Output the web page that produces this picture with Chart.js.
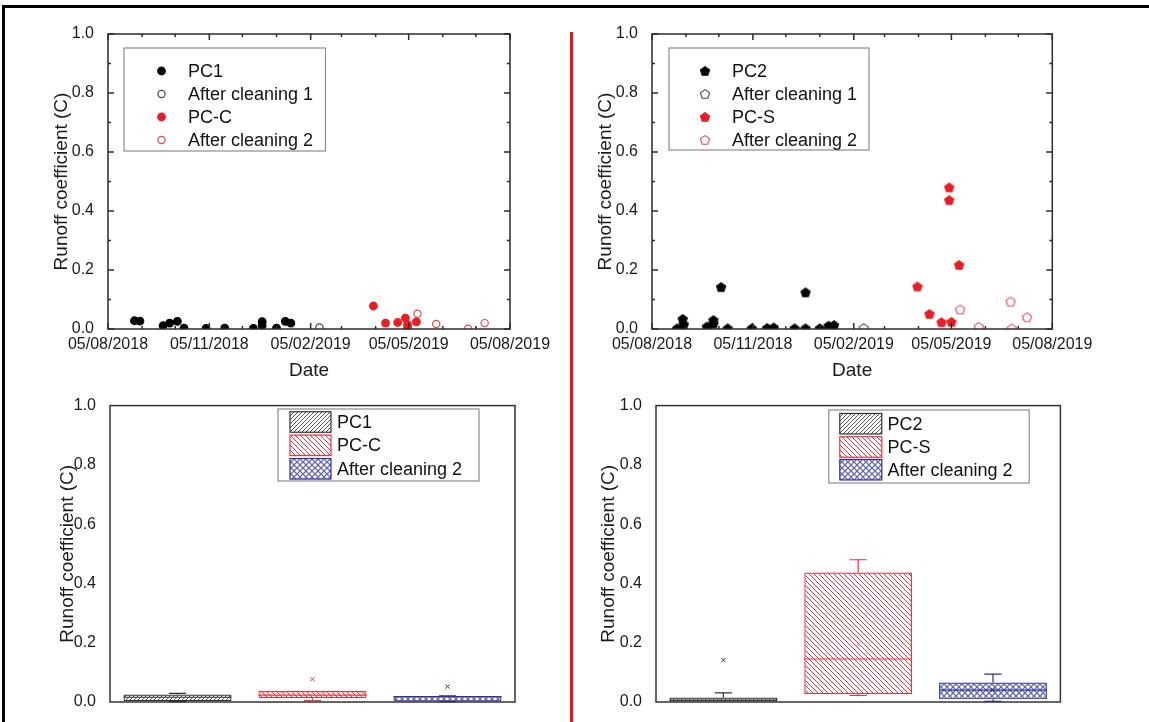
<!DOCTYPE html>
<html>
<head>
<meta charset="utf-8">
<title>Runoff coefficient</title>
<script src="https://cdn.jsdelivr.net/npm/chart.js@4.4.1/dist/chart.umd.min.js"></script>
<style>
  html, body { margin: 0; padding: 0; background: #fff; }
  body { width: 1149px; height: 722px; position: relative; overflow: hidden; }
  canvas, .rule { position: absolute; }
</style>
</head>
<body>
<div class="rule" style="left:2px;top:5px;width:1147px;height:3px;background:#000"></div>
<div class="rule" style="left:2px;top:5px;width:3px;height:717px;background:#000"></div>
<div class="rule" style="left:570px;top:32px;width:3px;height:690px;background:#e8141c"></div>
<canvas id="scatterA" style="left:0;top:0" width="575" height="390"></canvas>
<canvas id="scatterB" style="left:575px;top:0" width="574" height="390"></canvas>
<canvas id="boxA" style="left:0;top:390px" width="575" height="332"></canvas>
<canvas id="boxB" style="left:575px;top:390px" width="574" height="332"></canvas>
<script>
// ---- axis ticks ----
const xRange = ['2018-08-05', '2019-08-05'];
const xTickDates = ['2018-08-05', '2018-11-05', '2019-02-05', '2019-05-05', '2019-08-05'];
const xMinorDates = ['2018-09-05', '2018-10-05', '2018-12-05', '2019-01-05',
                     '2019-03-05', '2019-04-05', '2019-06-05', '2019-07-05'];
const yTicks = [0, 0.2, 0.4, 0.6, 0.8, 1.0];
const yMinor = [0.1, 0.3, 0.5, 0.7, 0.9];

// ---- top left: PC1 / PC-C ----
const pc1Dates = ['2018-08-29', '2018-09-03', '2018-09-24', '2018-09-30', '2018-10-07', '2018-10-13', '2018-11-02',
                  '2018-11-19', '2018-12-15', '2018-12-23', '2018-12-23', '2019-01-05', '2019-01-13', '2019-01-18'];
const pc1Values = [0.028, 0.027, 0.011, 0.020, 0.026, 0.003, 0.002, 0.003, 0.002, 0.025, 0.012, 0.003, 0.026, 0.020];
const clean1ADates = ['2019-02-13'];
const clean1AValues = [0.005];
const pccDates = ['2019-04-03', '2019-04-14', '2019-04-25', '2019-05-02', '2019-05-04', '2019-05-04', '2019-05-12'];
const pccValues = [0.078, 0.020, 0.022, 0.037, 0.015, 0.005, 0.024];
const clean2ADates = ['2019-05-13', '2019-05-30', '2019-06-28', '2019-07-13'];
const clean2AValues = [0.052, 0.017, 0.001, 0.020];

// ---- top right: PC2 / PC-S ----
const pc2Dates = ['2018-08-28', '2018-09-02', '2018-09-03', '2018-09-24', '2018-09-30', '2018-09-30', '2018-10-07',
                  '2018-10-13', '2018-11-04', '2018-11-18', '2018-11-24', '2018-12-13', '2018-12-23', '2018-12-23',
                  '2019-01-05', '2019-01-13', '2019-01-18'];
const pc2Values = [0.002, 0.034, 0.015, 0.008, 0.030, 0.018, 0.142, 0.002, 0.002, 0.003, 0.005, 0.002, 0.124, 0.002,
                   0.002, 0.011, 0.013];
const clean1BDates = ['2019-02-14'];
const clean1BValues = [0.003];
const pcsDates = ['2019-04-04', '2019-04-15', '2019-04-26', '2019-05-03', '2019-05-03', '2019-05-05', '2019-05-12'];
const pcsValues = [0.144, 0.051, 0.023, 0.480, 0.437, 0.024, 0.217];
const clean2BDates = ['2019-05-13', '2019-05-30', '2019-06-28', '2019-06-29', '2019-07-13'];
const clean2BValues = [0.066, 0.007, 0.093, 0.002, 0.040];

// ---- bottom left box plot ----
const boxALabels = ['PC1', 'PC-C', 'After cleaning 2'];
const boxAQ1 = [0.003, 0.013, 0.002];
const boxAQ3 = [0.025, 0.037, 0.020];
const boxAMedian = [0.016, 0.023, 0.018];
const boxALow = [0.001, 0.005, 0.001];
const boxAHigh = [0.029, 0.037, 0.021];
const boxAMarks = [null, 0.077, 0.052];

// ---- bottom right box plot ----
const boxBLabels = ['PC2', 'PC-S', 'After cleaning 2'];
const boxBQ1 = [0.002, 0.026, 0.009];
const boxBQ3 = [0.015, 0.437, 0.066];
const boxBMedian = [0.006, 0.145, 0.040];
const boxBLow = [0.002, 0.022, 0.002];
const boxBHigh = [0.031, 0.480, 0.094];
const boxBMarks = [0.141, 0.197, 0.041];

const FONT = '"Liberation Sans", Arial, Helvetica, sans-serif';
Chart.defaults.font.family = FONT;
Chart.defaults.color = '#1a1a1a';
Chart.defaults.animation = false;

const RED = '#ec1c24';
const RED_OPEN = '#e5464f';
const BLUE = '#2e3192';
const TITLE_SIZE = 19;

const toTime = d => Date.parse(d);
const pad2 = n => String(n).padStart(2, '0');
const fmtDate = v => {
    const d = new Date(v);
    return pad2(d.getUTCDate()) + '/' + pad2(d.getUTCMonth() + 1) + '/' + d.getUTCFullYear();
};
const pts = (dates, vals) => dates.map((d, i) => ({x: toTime(d), y: vals[i]}));

// pentagon marker drawn on a small canvas, used as pointStyle
function pentagon(fill, stroke) {
    const c = document.createElement('canvas');
    c.width = c.height = 12;
    const g = c.getContext('2d');
    g.beginPath();
    for (let k = 0; k < 5; k++) {
        const a = -Math.PI / 2 + k * 2 * Math.PI / 5;
        const px = 6 + 4.8 * Math.cos(a), py = 6.4 + 4.8 * Math.sin(a);
        k ? g.lineTo(px, py) : g.moveTo(px, py);
    }
    g.closePath();
    if (fill) { g.fillStyle = fill; g.fill(); }
    g.strokeStyle = stroke;
    g.lineWidth = 1.1;
    g.stroke();
    return c;
}

function hatch(color, size, dir) {
    const c = document.createElement('canvas');
    c.width = c.height = size;
    const g = c.getContext('2d');
    g.strokeStyle = color;
    g.lineWidth = 1;
    g.beginPath();
    if (dir === '/') {
        g.moveTo(0, size); g.lineTo(size, 0);
        g.moveTo(-1, 1); g.lineTo(1, -1);
        g.moveTo(size - 1, size + 1); g.lineTo(size + 1, size - 1);
    } else {
        g.moveTo(0, 0); g.lineTo(size, size);
        g.moveTo(-1, size - 1); g.lineTo(1, size + 1);
        g.moveTo(size - 1, -1); g.lineTo(size + 1, 1);
    }
    g.stroke();
    return g.createPattern(c, 'repeat');
}

function rings(color, size) {
    const c = document.createElement('canvas');
    c.width = c.height = size;
    const g = c.getContext('2d');
    g.strokeStyle = color;
    g.lineWidth = 1;
    g.beginPath();
    g.arc(size / 2, size / 2, size / 2 - 0.6, 0, Math.PI * 2);
    g.stroke();
    return g.createPattern(c, 'repeat');
}

// frame around the plot area plus inward ticks on all four sides
const axisFrame = {
    id: 'axisFrame',
    afterDatasetsDraw(chart, args, o) {
        const {ctx, chartArea: a} = chart;
        const xs = chart.scales.x, ys = chart.scales.y;
        ctx.save();
        ctx.strokeStyle = o.color;
        ctx.lineWidth = o.width;
        const tick = (vals, len, horiz) => vals.forEach(v => {
            ctx.beginPath();
            if (horiz) {
                const px = xs.getPixelForValue(v);
                ctx.moveTo(px, a.bottom); ctx.lineTo(px, a.bottom - len);
                ctx.moveTo(px, a.top); ctx.lineTo(px, a.top + len);
            } else {
                const py = ys.getPixelForValue(v);
                ctx.moveTo(a.left, py); ctx.lineTo(a.left + len, py);
                ctx.moveTo(a.right, py); ctx.lineTo(a.right - len, py);
            }
            ctx.stroke();
        });
        if (o.ticks) {
            tick(xTickDates.map(toTime), 6, true);
            tick(xMinorDates.map(toTime), 3, true);
            tick(yTicks, 6, false);
            tick(yMinor, 3, false);
        }
        ctx.strokeRect(a.left, a.top, a.right - a.left, a.bottom - a.top);
        ctx.restore();
    }
};

// boxed legend inside the plot area
const insideLegend = {
    id: 'insideLegend',
    afterDraw(chart, args, o) {
        const ctx = chart.ctx;
        const [bx, by, bw, bh] = o.box;
        ctx.save();
        ctx.fillStyle = '#fff';
        ctx.fillRect(bx, by, bw, bh);
        ctx.strokeStyle = '#8c8c8c';
        ctx.lineWidth = 1.2;
        ctx.strokeRect(bx, by, bw, bh);
        ctx.font = '18px ' + FONT;
        ctx.textBaseline = 'middle';
        if (o.kind === 'point') {
            chart.data.datasets.forEach((ds, i) => {
                const y = o.rows[i];
                ctx.fillStyle = ds.pointBackgroundColor;
                ctx.strokeStyle = ds.pointBorderColor;
                ctx.lineWidth = ds.pointBorderWidth;
                Chart.helpers.drawPoint(ctx, {pointStyle: ds.pointStyle, radius: ds.pointRadius,
                    borderWidth: ds.pointBorderWidth, rotation: 0}, o.markerX, y);
                ctx.fillStyle = '#111';
                ctx.fillText(ds.label, o.textX, y + 1);
            });
        } else {
            const ds = chart.data.datasets[0];
            chart.data.labels.forEach((label, i) => {
                const y = o.rows[i];
                ctx.fillStyle = ds.backgroundColor[i];
                ctx.fillRect(o.markerX, y - o.swatchH / 2, o.swatchW, o.swatchH);
                ctx.strokeStyle = ds.borderColor[i];
                ctx.lineWidth = 1.2;
                ctx.strokeRect(o.markerX, y - o.swatchH / 2, o.swatchW, o.swatchH);
                ctx.fillStyle = '#111';
                ctx.fillText(label, o.textX, y + 1);
            });
        }
        ctx.restore();
    }
};

// whiskers, caps and medians for the box plots
const whiskers = {
    id: 'whiskers',
    afterDatasetsDraw(chart, args, o) {
        const {ctx} = chart;
        const ys = chart.scales.y;
        const bars = chart.getDatasetMeta(0).data;
        ctx.save();
        ctx.lineWidth = 1.2;
        bars.forEach((bar, i) => {
            ctx.strokeStyle = o.colors[i];
            const half = bar.width / 2, cap = bar.width * 0.08;
            const yq1 = ys.getPixelForValue(o.q1[i]), yq3 = ys.getPixelForValue(o.q3[i]);
            const yLo = ys.getPixelForValue(o.low[i]), yHi = ys.getPixelForValue(o.high[i]);
            const yMed = ys.getPixelForValue(o.median[i]);
            ctx.beginPath();
            ctx.moveTo(bar.x - half, yMed); ctx.lineTo(bar.x + half, yMed);
            if (o.high[i] > o.q3[i]) {
                ctx.moveTo(bar.x, yq3); ctx.lineTo(bar.x, yHi);
                ctx.moveTo(bar.x - cap, yHi); ctx.lineTo(bar.x + cap, yHi);
            }
            if (o.low[i] < o.q1[i]) {
                ctx.moveTo(bar.x, yq1); ctx.lineTo(bar.x, yLo);
                ctx.moveTo(bar.x - cap, yLo); ctx.lineTo(bar.x + cap, yLo);
            }
            ctx.stroke();
        });
        ctx.restore();
    }
};

function yAxis(width, titleCenter) {
    return {
        min: 0,
        max: 1,
        afterBuildTicks: s => { s.ticks = yTicks.map(v => ({value: v})); },
        afterFit: s => { s.width = width; },
        grid: {display: false},
        border: {display: false},
        ticks: {font: {size: 16}, padding: 6, callback: v => v.toFixed(1)},
        title: {display: true, text: 'Runoff coefficient (C)', font: {size: TITLE_SIZE},
                padding: {top: titleCenter - TITLE_SIZE * 0.6, bottom: 0}}
    };
}

function dateAxis() {
    return {
        type: 'linear',
        min: toTime(xRange[0]),
        max: toTime(xRange[1]),
        afterBuildTicks: s => { s.ticks = xTickDates.map(d => ({value: toTime(d)})); },
        afterFit: s => { s.height = 61; },
        grid: {display: false},
        border: {display: false},
        ticks: {font: {size: 16}, padding: -2, maxRotation: 0, autoSkip: false, callback: v => fmtDate(v)},
        title: {display: true, text: 'Date', font: {size: TITLE_SIZE},
                padding: {top: 0, bottom: 19 - TITLE_SIZE * 0.6}}
    };
}

function pointSet(label, dates, vals, style, fill, stroke, radius) {
    return {
        label,
        data: pts(dates, vals),
        pointStyle: style,
        pointBackgroundColor: fill,
        pointBorderColor: stroke,
        backgroundColor: fill,
        borderColor: stroke,
        pointBorderWidth: 1.2,
        pointRadius: radius,
        pointHoverRadius: radius,
        showLine: false,
        clip: 0
    };
}

function scatterChart(id, datasets, yWidth, titleCenter, padRight, legend) {
    return new Chart(document.getElementById(id), {
        type: 'scatter',
        data: {datasets},
        options: {
            responsive: false,
            layout: {padding: {left: 0, top: 34, right: padRight, bottom: 0}},
            scales: {x: dateAxis(), y: yAxis(yWidth, titleCenter)},
            plugins: {
                legend: {display: false},
                tooltip: {enabled: false},
                axisFrame: {color: '#2b2b2b', width: 1.5, ticks: true},
                insideLegend: legend
            }
        },
        plugins: [axisFrame, insideLegend]
    });
}

function boxChart(id, labels, q1, q3, median, low, high, marks, colors, fills, markColors,
                  yWidth, titleCenter, padRight, legend) {
    return new Chart(document.getElementById(id), {
        type: 'bar',
        data: {
            labels,
            datasets: [
                {
                    data: q1.map((v, i) => [v, q3[i]]),
                    backgroundColor: fills,
                    borderColor: colors,
                    borderWidth: 1.2,
                    borderSkipped: false,
                    barPercentage: 0.8,
                    categoryPercentage: 1
                },
                {
                    type: 'line',
                    data: marks,
                    showLine: false,
                    pointStyle: 'crossRot',
                    pointRadius: 3,
                    pointBorderWidth: 1,
                    pointBorderColor: markColors,
                    borderColor: markColors,
                    clip: 0
                }
            ]
        },
        options: {
            responsive: false,
            layout: {padding: {left: 0, top: 15, right: padRight, bottom: 0}},
            scales: {
                x: {
                    type: 'category',
                    offset: true,
                    grid: {display: false},
                    border: {display: false},
                    ticks: {display: false},
                    afterFit: s => { s.height = 20; }
                },
                y: yAxis(yWidth, titleCenter)
            },
            plugins: {
                legend: {display: false},
                tooltip: {enabled: false},
                axisFrame: {color: '#333', width: 1.5, ticks: false},
                whiskers: {q1, q3, median, low, high, colors},
                insideLegend: legend
            }
        },
        plugins: [whiskers, axisFrame, insideLegend]
    });
}

// ---- build the four panels ----
const penBlack = pentagon('#000', '#000');
const penOpen = pentagon('#fff', '#444');
const penRed = pentagon(RED, RED);
const penRedOpen = pentagon('#fff', RED_OPEN);

scatterChart('scatterA', [
    pointSet('PC1', pc1Dates, pc1Values, 'circle', '#000', '#000', 3.8),
    pointSet('After cleaning 1', clean1ADates, clean1AValues, 'circle', '#fff', '#444', 3.6),
    pointSet('PC-C', pccDates, pccValues, 'circle', RED, RED, 3.8),
    pointSet('After cleaning 2', clean2ADates, clean2AValues, 'circle', '#fff', RED_OPEN, 3.6)
], 108, 62, 65, {kind: 'point', box: [124, 48, 201.5, 103], markerX: 161.5, textX: 188, rows: [71, 94, 117, 140]});

scatterChart('scatterB', [
    pointSet('PC2', pc2Dates, pc2Values, penBlack, '#000', '#000', 4.5),
    pointSet('After cleaning 1', clean1BDates, clean1BValues, penOpen, '#fff', '#444', 4.5),
    pointSet('PC-S', pcsDates, pcsValues, penRed, RED, RED, 4.5),
    pointSet('After cleaning 2', clean2BDates, clean2BValues, penRedOpen, '#fff', RED_OPEN, 4.5)
], 77, 31, 96.7, {kind: 'point', box: [94, 48, 200, 102], markerX: 130, textX: 157, rows: [71, 94, 117, 140]});

boxChart('boxA', boxALabels, boxAQ1, boxAQ3, boxAMedian, boxALow, boxAHigh, boxAMarks,
    ['#333', '#e8323c', BLUE],
    [hatch('#555', 4, '/'), hatch('#e8323c', 5, '\\'), rings(BLUE, 6)],
    ['#333', '#e8323c', BLUE],
    110, 68, 60,
    {kind: 'swatch', box: [278, 19, 201, 72], markerX: 290, textX: 337, swatchW: 41, swatchH: 20.5,
     rows: [32, 55.3, 78.8]});

boxChart('boxB', boxBLabels, boxBQ1, boxBQ3, boxBMedian, boxBLow, boxBHigh, boxBMarks,
    ['#333', '#e8323c', BLUE],
    [hatch('#555', 4, '/'), hatch('#e8323c', 5, '\\'), rings(BLUE, 6)],
    ['#333', '#f08a90', BLUE],
    81, 33.7, 88.6,
    {kind: 'swatch', box: [253.8, 20, 200.4, 73], markerX: 264.8, textX: 312.5, swatchW: 42, swatchH: 20.5,
     rows: [33.7, 57, 79.7]});
</script>
</body>
</html>
